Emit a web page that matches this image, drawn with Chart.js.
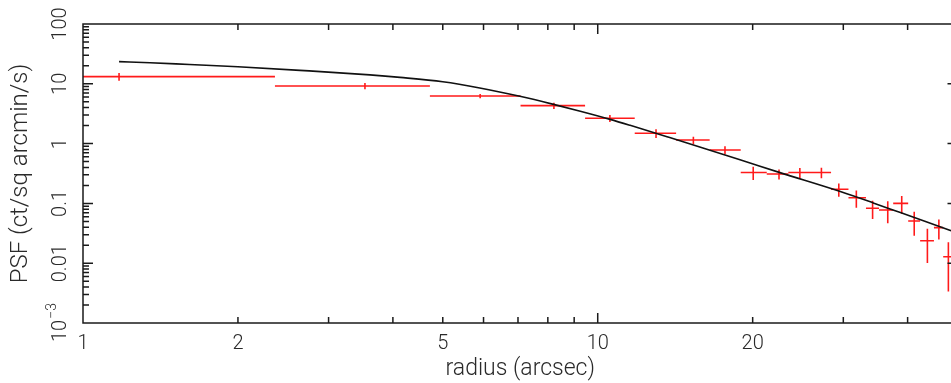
<!DOCTYPE html>
<html>
<head>
<meta charset="utf-8">
<script src="https://cdn.jsdelivr.net/npm/chart.js@4.4.0/dist/chart.umd.min.js"></script>
<style>
  html, body { margin: 0; padding: 0; background: #fff; overflow: hidden; }
  #wrap { width: 960px; height: 383px; }
</style>
</head>
<body>
<div id="wrap"><canvas id="psf" width="960" height="383"></canvas></div>
<script>
// Radial profile bins (arcsec) and measured surface brightness
const binLow  = [1.0, 2.36, 4.72, 7.08, 9.45, 11.8, 14.2, 16.5, 18.96, 21.3, 23.46, 25.9, 28.4, 30.7, 33.2, 35.2, 37.5, 40.1, 42.3, 45.0, 46.9];
const binHigh = [2.36, 4.72, 7.08, 9.45, 11.8, 14.2, 16.5, 18.96, 21.3, 23.46, 25.9, 28.4, 30.7, 33.2, 35.2, 37.5, 40.1, 42.3, 45.0, 46.9, 49.3];
const binMid  = [1.175, 3.53, 5.91, 8.22, 10.56, 12.98, 15.34, 17.67, 20.05, 22.5, 24.7, 27.2, 29.4, 31.8, 34.2, 36.6, 38.96, 41.2, 43.7, 46.0, 48.0];
const psf     = [13.2, 9.2, 6.25, 4.31, 2.65, 1.49, 1.148, 0.782, 0.329, 0.31, 0.329, 0.329, 0.172, 0.1245, 0.0828, 0.0776, 0.1, 0.0508, 0.0238, 0.0393, 0.01285];
const psfErr  = [1.9, 1.1, 0.5, 0.53, 0.36, 0.25, 0.16, 0.12, 0.082, 0.059, 0.062, 0.066, 0.043, 0.040, 0.028, 0.031, 0.033, 0.022, 0.0137, 0.0145, 0.0095];

// Model PSF curve
const modelR   = [1.175, 1.35, 1.61, 2.0, 2.64, 3.61, 4.13, 5.0, 5.9, 7.06, 8.17, 9.25, 10.57, 11.56, 13.8, 18.9, 22.6, 29.6, 34.3, 38.6, 48.3, 50];
const modelPsf = [23.5, 22.5, 21.0, 19.3, 16.8, 14.1, 12.8, 10.8, 8.51, 6.17, 4.57, 3.47, 2.54, 2.02, 1.26, 0.537, 0.327, 0.158, 0.102, 0.0708, 0.0355, 0.0319];

// Axis labels
const xTickValues = [1, 2, 5, 10, 20];
const xTickLabels = ['1', '2', '5', '10', '20'];
const yTickValues = [100, 10, 1, 0.1, 0.01, 0.001];
const yTickLabels = ['100', '10', '1', '0.1', '0.01', '10^\u22123'];

const TEXT = '#2a2a2a';
const RED = '#ff1a1a';
const FONT = 'Roboto';

// error bars as broken line segments (null y breaks the path)
const hBars = [];
const vBars = [];
binMid.forEach((r, i) => {
  hBars.push({ x: binLow[i], y: psf[i] }, { x: binHigh[i], y: psf[i] }, { x: binHigh[i], y: null });
  vBars.push({ x: r, y: psf[i] - psfErr[i] }, { x: r, y: psf[i] + psfErr[i] }, { x: r, y: null });
});

const frame = {
  id: 'frame',
  afterDatasetsDraw(chart) {
    const { ctx, chartArea: a, scales: { x, y } } = chart;
    ctx.save();
    ctx.strokeStyle = '#1a1a1a';
    ctx.lineWidth = 1.5;
    ctx.strokeRect(a.left, a.top, a.right - a.left, a.bottom - a.top);
    ctx.beginPath();
    for (let d = 1; d <= 10; d *= 10) {
      for (let m = 1; m <= 9; m++) {
        const v = d * m;
        if (v <= x.min || v >= x.max) continue;
        const px = x.getPixelForValue(v);
        const len = m === 1 ? 10 : 6;
        ctx.moveTo(px, a.bottom); ctx.lineTo(px, a.bottom - len);
        ctx.moveTo(px, a.top); ctx.lineTo(px, a.top + len);
      }
    }
    for (let d = 0.001; d < 100; d *= 10) {
      for (let m = 1; m <= 9; m++) {
        const v = d * m;
        if (v <= y.min * 1.0001 || v >= y.max * 0.9999) continue;
        const py = y.getPixelForValue(v);
        const len = m === 1 ? 10 : 6;
        ctx.moveTo(a.left, py); ctx.lineTo(a.left + len, py);
        ctx.moveTo(a.right, py); ctx.lineTo(a.right - len, py);
      }
    }
    ctx.stroke();
    ctx.restore();
  },
  afterDraw(chart) {
    // rotated y tick labels, exponent drawn as a superscript
    const { ctx, scales: { y } } = chart;
    ctx.save();
    ctx.fillStyle = TEXT;
    ctx.textBaseline = 'middle';
    ctx.textAlign = 'left';
    yTickValues.forEach((v, i) => {
      const [base, exp] = yTickLabels[i].split('^');
      ctx.font = `300 20px ${FONT}`;
      const wb = ctx.measureText(base).width;
      ctx.font = `300 14px ${FONT}`;
      const we = exp ? ctx.measureText(exp).width : 0;
      ctx.save();
      ctx.translate(61, y.getPixelForValue(v));
      ctx.rotate(-Math.PI / 2);
      const x0 = -(wb + we) / 2;
      ctx.font = `300 20px ${FONT}`;
      ctx.fillText(base, x0, 0);
      if (exp) {
        ctx.font = `300 14px ${FONT}`;
        ctx.fillText(exp, x0 + wb + 1, -9);
      }
      ctx.restore();
    });
    ctx.restore();
  }
};

new Chart(document.getElementById('psf'), {
  type: 'line',
  data: {
    datasets: [
      {
        data: modelR.map((r, i) => ({ x: r, y: modelPsf[i] })),
        borderColor: '#111',
        borderWidth: 1.6,
        pointRadius: 0,
        cubicInterpolationMode: 'monotone',
        fill: false
      },
      {
        data: hBars,
        borderColor: RED,
        borderWidth: 1.6,
        pointRadius: 0,
        spanGaps: false,
        tension: 0,
        fill: false
      },
      {
        data: vBars,
        borderColor: RED,
        borderWidth: 1.6,
        pointRadius: 0,
        spanGaps: false,
        tension: 0,
        fill: false
      }
    ]
  },
  options: {
    responsive: false,
    animation: false,
    events: [],
    layout: { padding: { top: 24, right: 2.5, left: 0, bottom: 0 } },
    plugins: { legend: { display: false }, tooltip: { enabled: false } },
    scales: {
      x: {
        type: 'logarithmic',
        min: 1,
        max: 50,
        afterBuildTicks: s => { s.ticks = xTickValues.map(v => ({ value: v })); },
        afterFit: s => { s.height = 60; },
        grid: { display: false, drawTicks: false },
        border: { display: false },
        ticks: {
          autoSkip: false, maxRotation: 0, minRotation: 0, padding: 9,
          color: TEXT, font: { family: FONT, size: 20, weight: '300' },
          callback: (v, i) => xTickLabels[i]
        },
        title: {
          display: true, text: 'radius (arcsec)', color: TEXT,
          font: { family: FONT, size: 23, weight: '300' },
          padding: { top: 0, bottom: 0 }
        }
      },
      y: {
        type: 'logarithmic',
        min: 0.001,
        max: 100,
        afterFit: s => { s.width = 83; },
        grid: { display: false, drawTicks: false },
        border: { display: false },
        ticks: { display: false },
        title: {
          display: true, text: 'PSF (ct/sq arcmin/s)', color: TEXT,
          font: { family: FONT, size: 24, weight: '300' },
          padding: { top: 7, bottom: 0 }
        }
      }
    }
  },
  plugins: [frame]
});
</script>
</body>
</html>
